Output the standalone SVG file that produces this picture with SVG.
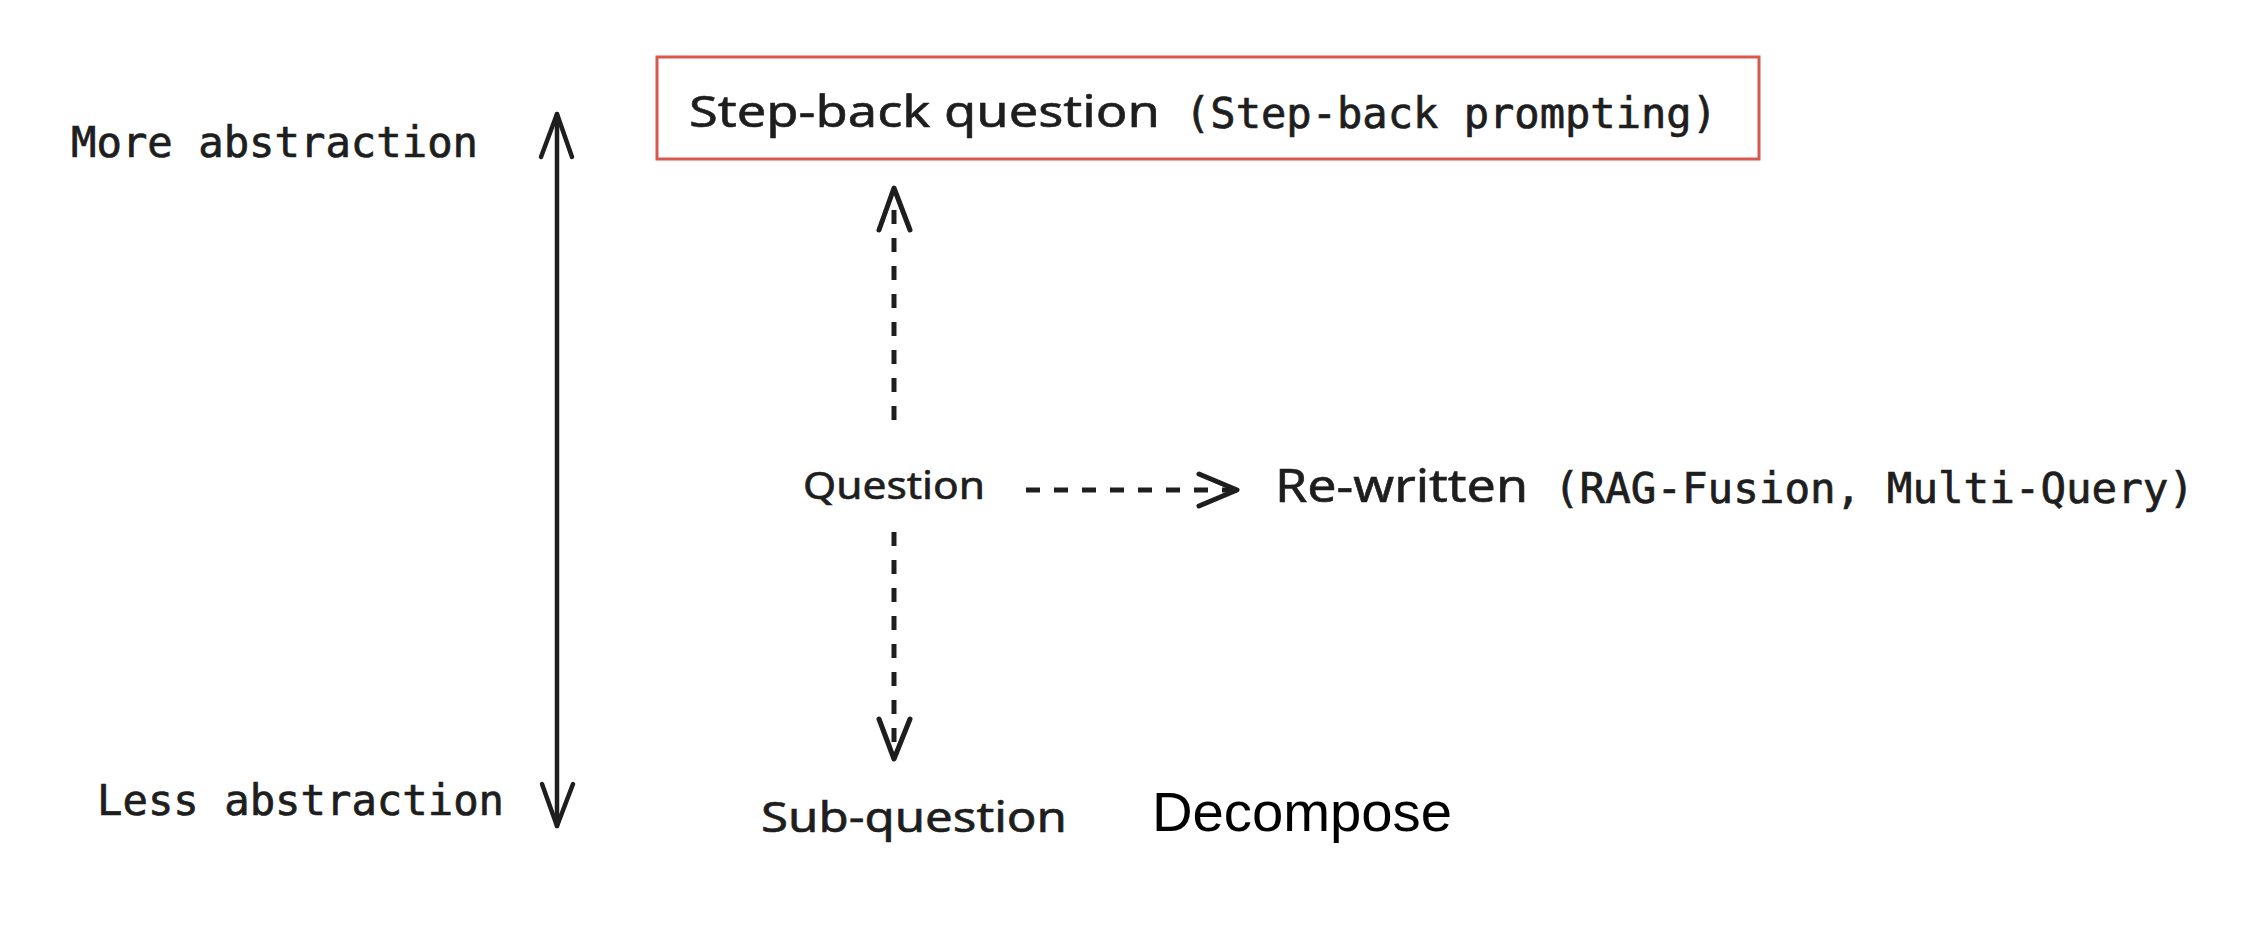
<svg xmlns="http://www.w3.org/2000/svg" width="2258" height="930" viewBox="0 0 2258 930">
  <style>
    .mono { font-family: "DejaVu Sans Mono", "Liberation Mono", monospace; font-size: 42px; fill: #1e1e1e; stroke: #1e1e1e; stroke-width: 0.7; }
    .hand { font-family: "Noto Sans", "Liberation Sans", sans-serif; fill: #1e1e1e; stroke: #1e1e1e; stroke-width: 0.6; }
    .plain { font-family: "Liberation Sans", Arial, sans-serif; font-size: 56px; fill: #000; }
    .solid { stroke: #1e1e1e; stroke-width: 4.5; fill: none; stroke-linecap: round; stroke-linejoin: round; }
    .dash { stroke: #1e1e1e; stroke-width: 5; fill: none; stroke-dasharray: 14 14; }
    .head { stroke: #1e1e1e; stroke-width: 5; fill: none; stroke-linecap: round; stroke-linejoin: round; }
  </style>
  <rect width="2258" height="930" fill="#ffffff"/>

  <g id="axis-labels">
    <text class="mono" x="71" y="157" textLength="407" lengthAdjust="spacingAndGlyphs">More abstraction</text>
    <text class="mono" x="97" y="815" textLength="407" lengthAdjust="spacingAndGlyphs">Less abstraction</text>
  </g>

  <g id="step-back">
    <rect x="657" y="57" width="1102" height="102" fill="none" stroke="#d9574c" stroke-width="3"/>
    <text class="hand" x="689" y="127" font-size="44" textLength="471" lengthAdjust="spacingAndGlyphs">Step-back question</text>
    <text class="mono" x="1185" y="128" textLength="532" lengthAdjust="spacingAndGlyphs">(Step-back prompting)</text>
  </g>

  <g id="question">
    <text class="hand" x="803" y="499" font-size="38" textLength="182" lengthAdjust="spacingAndGlyphs">Question</text>
  </g>

  <g id="rewritten">
    <text class="hand" x="1275" y="502" font-size="46" textLength="253" lengthAdjust="spacingAndGlyphs">Re-written</text>
    <text class="mono" x="1554" y="503" textLength="640" lengthAdjust="spacingAndGlyphs">(RAG-Fusion, Multi-Query)</text>
  </g>

  <g id="sub-question">
    <text class="hand" x="761" y="832" font-size="42" textLength="306" lengthAdjust="spacingAndGlyphs">Sub-question</text>
  </g>

  <g id="decompose">
    <text class="plain" x="1152" y="831" textLength="300" lengthAdjust="spacingAndGlyphs">Decompose</text>
  </g>

  <g id="connectors">
    <!-- abstraction axis -->
    <line class="solid" x1="557" y1="114" x2="557" y2="826"/>
    <polyline class="solid" points="541,157 557,114 572,157"/>
    <polyline class="solid" points="542,784 557,826 573,784"/>
    <!-- question to step-back -->
    <line class="dash" x1="894" y1="420" x2="894" y2="196"/>
    <polyline class="head" points="879,230 894,188 910,230"/>
    <!-- question to re-written -->
    <line class="dash" x1="1026" y1="490" x2="1232" y2="490"/>
    <polyline class="head" points="1199,474 1237,490 1199,506"/>
    <!-- question to sub-question -->
    <line class="dash" x1="894" y1="532" x2="894" y2="752"/>
    <polyline class="head" points="879,719 894,759 910,719"/>
  </g>
</svg>
